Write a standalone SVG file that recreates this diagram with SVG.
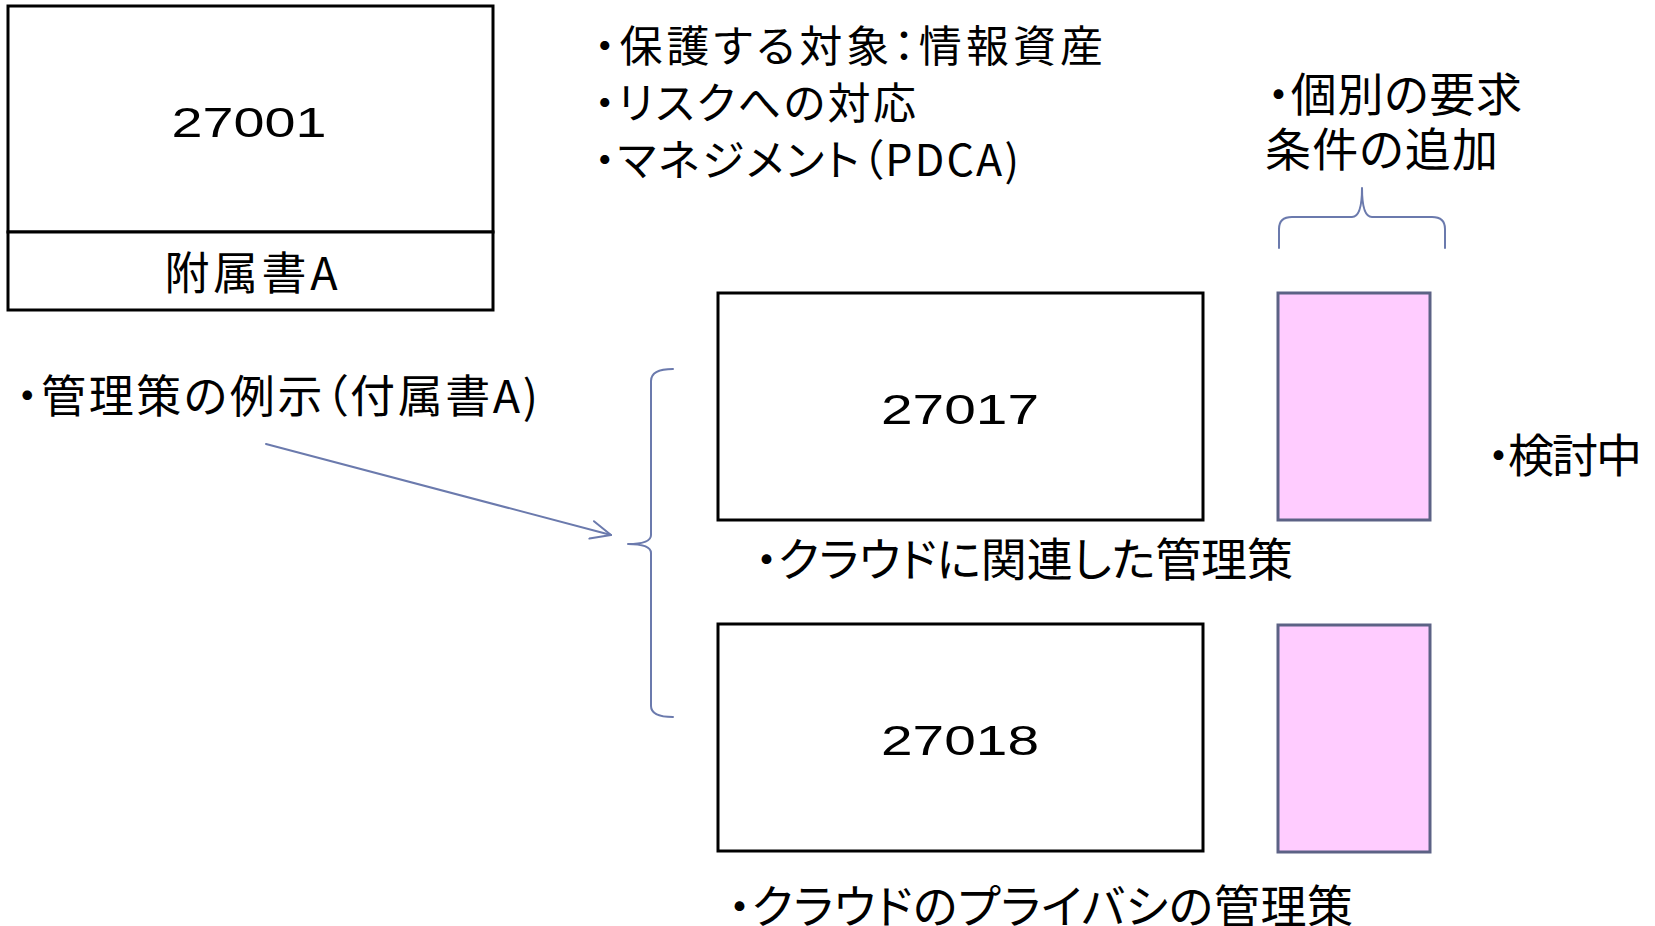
<svg xmlns="http://www.w3.org/2000/svg" width="1655" height="926" viewBox="0 0 1655 926">
<style>
.box{fill:#fff;stroke:#000;stroke-width:3}
.pink{fill:#FFCCFF;stroke:#5C6285;stroke-width:3}
.num{font-family:"Liberation Sans",Arial,sans-serif;font-size:43px;fill:#000;text-anchor:middle}
.jp{font-family:"Noto Sans CJK JP","Noto Sans CJK SC",sans-serif;fill:#000;font-feature-settings:"palt" 1}
.conn{fill:none;stroke:#6B7AAD;stroke-width:2;stroke-linejoin:round;stroke-linecap:round}
</style>
<defs>
<marker id="open" markerUnits="userSpaceOnUse" markerWidth="26" markerHeight="24" refX="21" refY="11" orient="auto">
<path d="M1,2 L21,11 L1,20" fill="none" stroke="#6B7AAD" stroke-width="2" stroke-linecap="round" stroke-linejoin="round"/>
</marker>
</defs>
<rect width="1655" height="926" fill="#fff"/>

<g id="node-27001">
<rect class="box" x="8" y="6" width="485" height="226"/>
<text class="num" x="249" y="137" textLength="155" lengthAdjust="spacingAndGlyphs">27001</text>
</g>
<g id="node-annexA">
<rect class="box" x="8" y="232" width="485" height="78"/>
<text class="jp" x="251" y="290" font-size="45" text-anchor="middle" textLength="173">附属書A</text>
</g>

<g id="text-top">
<text class="jp" x="594" y="62" font-size="43" textLength="509">・保護する対象：情報資産</text>
<text class="jp" x="594" y="119" font-size="43" textLength="322">・リスクへの対応</text>
<text class="jp" x="594" y="176" font-size="43" textLength="425">・マネジメント（PDCA)</text>
</g>

<g id="text-individual">
<text class="jp" x="1267" y="111" font-size="46" textLength="255">・個別の要求</text>
<text class="jp" x="1265" y="166" font-size="46" textLength="233">条件の追加</text>
</g>

<g id="text-controls">
<text class="jp" x="16" y="413" font-size="45" textLength="522">・管理策の例示（付属書A)</text>
</g>

<g id="node-27017">
<rect class="box" x="718" y="293" width="485" height="227"/>
<text class="num" x="960" y="424" textLength="158" lengthAdjust="spacingAndGlyphs">27017</text>
</g>
<g id="label-27017">
<text class="jp" x="755" y="576" font-size="46" textLength="538">・クラウドに関連した管理策</text>
</g>

<g id="node-27018">
<rect class="box" x="718" y="624" width="485" height="227"/>
<text class="num" x="960" y="755" textLength="158" lengthAdjust="spacingAndGlyphs">27018</text>
</g>
<g id="label-27018">
<text class="jp" x="728" y="923" font-size="46" textLength="625">・クラウドのプライバシの管理策</text>
</g>

<g id="node-pink1">
<rect class="pink" x="1278" y="293" width="152" height="227"/>
</g>
<g id="node-pink2">
<rect class="pink" x="1278" y="625" width="152" height="227"/>
</g>
<g id="text-review">
<text class="jp" x="1487" y="472" font-size="46" textLength="155">・検討中</text>
</g>

<g id="connectors">
<line class="conn" x1="266" y1="444" x2="611" y2="535" marker-end="url(#open)"/>
<path class="conn" d="M673,369 Q651,369 651,381 L651,535 Q651,544 628,544 Q651,544 651,553 L651,706 Q651,717 673,717"/>
<path class="conn" d="M1279,248 L1279,229 Q1279,217 1292,217 L1352,217 Q1362,217 1362,188 Q1362,217 1372,217 L1432,217 Q1445,217 1445,229 L1445,248"/>
</g>
</svg>
